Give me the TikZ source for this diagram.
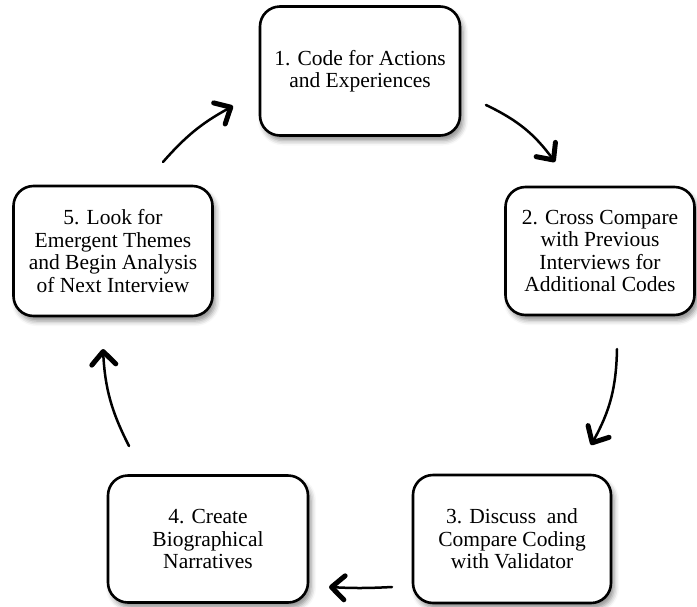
\documentclass[tikz,border=0pt]{standalone}
\usepackage{fontspec}
\setmainfont{Liberation Serif}
\usetikzlibrary{arrows.meta,shadows.blur}
\begin{document}
\begin{tikzpicture}[x=1pt,y=-1pt,
  stepbox/.style={draw=black, line width=2.6pt, fill=white, rounded corners=20pt,
    align=center, inner sep=0pt, font=\fontsize{21.5}{22.5}\selectfont,
    blur shadow={shadow xshift=3pt, shadow yshift=-5pt, shadow blur radius=5pt, shadow opacity=45}},
  cyc/.style={line width=2.5pt, line cap=round,
    -{Straight Barb[length=13pt,width=24pt,line width=5pt,round]}}]
\useasboundingbox (0,0) rectangle (697,606);
\node[stepbox, minimum width=200pt, minimum height=129pt] (s1) at (360,71) {1. Code for Actions\\and Experiences};
\node[stepbox, minimum width=189pt, minimum height=128pt] (s2) at (600,251) {2. Cross Compare\\with Previous\\Interviews for\\Additional Codes};
\node[stepbox, minimum width=198pt, minimum height=128pt] (s3) at (512,539) {3. Discuss\ \ and\\Compare Coding\\with Validator};
\node[stepbox, minimum width=200pt, minimum height=127pt] (s4) at (208,539) {4. Create\\Biographical\\Narratives};
\node[stepbox, minimum width=199pt, minimum height=130pt] (s5) at (113,251) {5. Look for\\Emergent Themes\\and Begin Analysis\\of Next Interview};
\coordinate (a1s) at (163,162); \coordinate (a1e) at (233,106);
\coordinate (a2s) at (486,105); \coordinate (a2e) at (555,162);
\coordinate (a3s) at (617,349); \coordinate (a3e) at (591,445);
\coordinate (a4s) at (392,587); \coordinate (a4e) at (329,587);
\coordinate (a5s) at (129,446); \coordinate (a5e) at (103,349);
\draw[cyc] (a1s) to[bend left=10] (a1e);
\draw[cyc] (a2s) to[bend left=14] (a2e);
\draw[cyc] (a3s) to[bend left=14] (a3e);
\draw[cyc] (a4s) to[bend left=3] (a4e);
\draw[cyc] (a5s) to[bend left=12] (a5e);
\end{tikzpicture}
\end{document}
